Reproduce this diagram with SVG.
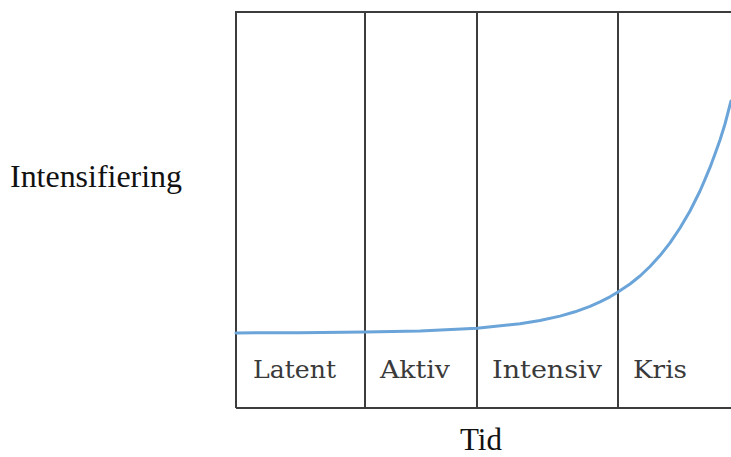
<svg xmlns="http://www.w3.org/2000/svg" width="731" height="457" viewBox="0 0 731 457">
  <style>
    .frame { stroke: #3c3c3c; stroke-width: 2; fill: none; }
    .phase { font-family: "DejaVu Serif", "Liberation Serif", serif; font-size: 24px; fill: #3a3a3a; }
    .axis { font-family: "Liberation Serif", "Times New Roman", serif; font-size: 31px; fill: #111111; }
    .curve { stroke: #6aa4d8; stroke-width: 3; fill: none; stroke-linejoin: round; stroke-linecap: round; }
  </style>
  <rect width="731" height="457" fill="#ffffff"/>
  <g id="frame">
    <path class="frame" d="M236 408 V12 H731 M236 408 H731 M365 12 V408 M477 12 V408 M618 12 V408"/>
  </g>
  <g id="connectors">
    <path id="intensity-curve" class="curve" d="M236 332.9 L300 332.7 L365 332.1 L420 331 L477 328.2 L520 323.8 L540 320.5 L560 316.1 L575 311.8 L590 306.3 L600 301.9 L610 296.8 L618 292 L630 284 L640 276 L650 266.5 L660 255.6 L670 242.8 L680 228 L690 211 L700 191 L705 179.4 L710 167.4 L715 154 L720 140 L725 124 L731 101"/>
  </g>
  <g id="phase-latent"><text class="phase" x="253" y="378" textLength="83" lengthAdjust="spacingAndGlyphs">Latent</text></g>
  <g id="phase-aktiv"><text class="phase" x="380" y="378" textLength="70" lengthAdjust="spacingAndGlyphs">Aktiv</text></g>
  <g id="phase-intensiv"><text class="phase" x="492" y="378" textLength="110" lengthAdjust="spacingAndGlyphs">Intensiv</text></g>
  <g id="phase-kris"><text class="phase" x="633" y="378" textLength="54" lengthAdjust="spacingAndGlyphs">Kris</text></g>
  <g id="axis-y"><text class="axis" x="10" y="187" textLength="172" lengthAdjust="spacingAndGlyphs">Intensifiering</text></g>
  <g id="axis-x"><text class="axis" x="460" y="450" font-size="30" textLength="42" lengthAdjust="spacingAndGlyphs">Tid</text></g>
</svg>
